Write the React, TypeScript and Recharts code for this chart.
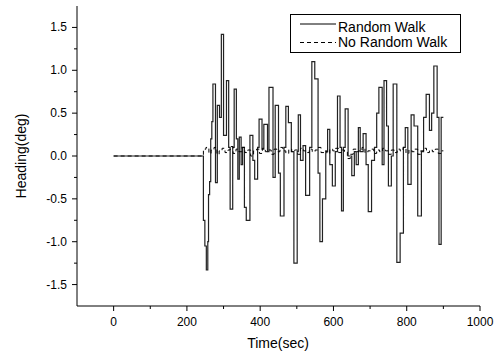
import React from 'react';
import { LineChart, Line, XAxis, YAxis, Legend, Label } from 'recharts';

// random walk heading (step signal)
const rwTime = [
  0, 245, 249, 253, 257, 259, 262, 265, 268, 271, 278, 283, 289, 294, 300, 308, 314, 318, 325, 329,
  335, 339, 343, 348, 352, 357, 362, 372, 380, 385, 393, 397, 405, 410, 420, 424, 435, 441, 450, 455,
  465, 470, 477, 485, 492, 501, 504, 510, 517, 524, 535, 541, 549, 558, 563, 570, 579, 584, 590, 597,
  605, 611, 618, 622, 627, 632, 640, 650, 657, 662, 668, 673, 681, 689, 695, 704, 712, 718, 724, 733,
  738, 745, 750, 758, 763, 773, 782, 791, 796, 803, 812, 820, 830, 840, 846, 853, 862, 868, 874, 883,
  888, 894, 900,
];
const rwValue = [
  0, -0.75, -1.05, -1.33, -1.0, -0.45, -0.3, 0.2, 0.4, 0.84, -0.31, 0.59, 0.45, 1.42, 0.24, 0.88, 0.1, -0.62, 0.1, 0.78,
  0.2, -0.27, 0.22, -0.1, 0.1, -0.6, -0.75, 0.24, -0.05, -0.27, 0.1, 0.43, 0.08, 0.37, 0.05, 0.8, -0.25, 0.59, -0.2, -0.7,
  0.1, 0.58, 0.39, 0.05, -1.25, 0.05, 0.48, -0.05, 0.12, -0.46, 0.1, 1.1, 0.9, -0.2, -1.0, -0.5, 0.05, 0.31, -0.1, -0.35,
  0.05, 0.7, 0.1, -0.64, 0.1, 0.55, 0.0, -0.23, 0.05, -0.1, 0.33, 0.05, 0.26, -0.1, -0.65, -0.05, 0.1, 0.5, 0.8, -0.1,
  0.88, 0.35, -0.35, 0.0, 0.84, -1.24, -0.9, 0.1, 0.33, -0.33, 0.48, 0.35, -0.7, 0.05, 0.45, 0.72, 0.3, 0.5, 1.05, 0.45,
  -1.03, 0.45, 0.45,
];

// no random walk heading
const nrwTime = [
  0, 245, 252, 260, 266, 274, 282, 288, 296, 304, 312, 318, 326, 334, 342, 350, 358, 366, 374, 382,
  390, 398, 406, 414, 422, 430, 438, 446, 454, 462, 470, 478, 486, 494, 502, 510, 518, 526, 534, 542,
  550, 558, 566, 574, 582, 590, 598, 606, 614, 622, 630, 638, 646, 654, 662, 670, 678, 686, 694, 702,
  710, 718, 726, 734, 742, 750, 758, 766, 774, 782, 790, 798, 806, 814, 822, 830, 838, 846, 854, 862,
  870, 878, 886, 894, 900,
];
const nrwValue = [
  0, 0.08, 0.1, 0.03, 0.07, 0.1, 0.02, 0.06, 0.09, 0.04, 0.07, 0.11, 0.03, 0.08, 0.05, 0.1, 0.04, 0.07, 0.0, 0.06,
  0.08, 0.03, 0.09, 0.05, 0.07, 0.02, 0.08, 0.05, 0.1, 0.06, 0.03, 0.08, 0.05, 0.07, 0.02, 0.09, 0.06, 0.04, 0.08, 0.05,
  0.07, 0.1, 0.04, 0.06, 0.03, 0.08, 0.06, 0.09, 0.04, 0.07, 0.05, -0.03, 0.02, 0.08, 0.05, 0.07, 0.1, 0.04, 0.06, 0.08,
  0.03, 0.07, 0.05, 0.09, 0.06, 0.02, 0.07, 0.04, 0.08, 0.06, 0.1, 0.03, 0.07, 0.05, 0.08, 0.02, 0.06, 0.09, 0.04, 0.07,
  0.05, 0.08, 0.03, 0.06, 0.06,
];

const xTicks = [0, 100, 200, 300, 400, 500, 600, 700, 800, 900, 1000];
const yTicks = [-1.5, -1.25, -1.0, -0.75, -0.5, -0.25, 0, 0.25, 0.5, 0.75, 1.0, 1.25, 1.5];

const rwData = rwTime.map((t, i) => ({ t, v: rwValue[i] }));
const nrwData = nrwTime.map((t, i) => ({ t, v: nrwValue[i] }));

const FONT = '"Liberation Sans", Arial, sans-serif';

const XTick = (props: any) => {
  const { x, y, payload } = props;
  const major = payload.value % 200 === 0;
  return (
    <g>
      <line x1={x} x2={x} y1={y} y2={y + (major ? 5 : 3)} stroke="#000" />
      {major && (
        <text x={x} y={y + 20} textAnchor="middle" fontSize={12} fontFamily={FONT} fill="#000">
          {payload.value}
        </text>
      )}
    </g>
  );
};

const YTick = (props: any) => {
  const { x, y, payload } = props;
  const v = payload.value;
  const major = Math.abs(v * 2 - Math.round(v * 2)) < 1e-6;
  return (
    <g>
      <line x1={x - (major ? 5 : 3)} x2={x} y1={y} y2={y} stroke="#000" />
      {major && (
        <text x={x - 10} y={y + 4} textAnchor="end" fontSize={12} fontFamily={FONT} fill="#000">
          {v.toFixed(1)}
        </text>
      )}
    </g>
  );
};

const LegendBox = () => (
  <svg width={171} height={39} style={{ display: 'block' }}>
    <rect x={0.5} y={0.5} width={170} height={38} fill="#fff" stroke="#000" />
    <line x1={10} x2={46} y1={10} y2={10} stroke="#000" />
    <text x={48} y={17.5} fontSize={14} fontFamily={FONT} fill="#000">Random Walk</text>
    <line x1={10} x2={46} y1={28.5} y2={28.5} stroke="#000" strokeDasharray="4 3" />
    <text x={48} y={33} fontSize={14} fontFamily={FONT} fill="#000">No Random Walk</text>
  </svg>
);

export default function App() {
  return (
    <div style={{ position: 'absolute', left: 0, top: 0, background: '#fff' }}>
      <LineChart width={499} height={356} margin={{ top: 6, right: 19, bottom: 0, left: 0 }}>
        <XAxis
          dataKey="t"
          type="number"
          domain={[-100, 1000]}
          ticks={xTicks}
          interval={0}
          allowDataOverflow
          height={50}
          tickSize={0}
          tickMargin={0}
          tickLine={false}
          axisLine={{ stroke: '#000' }}
          tick={<XTick />}
        >
          <Label
            content={() => (
              <text x={278} y={348} textAnchor="middle" fontSize={14} fontFamily={FONT} fill="#000">
                Time(sec)
              </text>
            )}
          />
        </XAxis>
        <XAxis xAxisId="top" orientation="top" type="number" domain={[-100, 1000]} height={0} tick={false} tickLine={false} axisLine={{ stroke: '#000' }} />
        <YAxis
          type="number"
          domain={[-1.75, 1.75]}
          ticks={yTicks}
          interval={0}
          allowDataOverflow
          width={77}
          tickSize={0}
          tickMargin={0}
          tickLine={false}
          axisLine={{ stroke: '#000' }}
          tick={<YTick />}
        >
          <Label
            content={() => (
              <text
                x={26}
                y={156}
                textAnchor="middle"
                fontSize={14}
                fontFamily={FONT}
                fill="#000"
                transform="rotate(-90 26 156)"
              >
                Heading(deg)
              </text>
            )}
          />
        </YAxis>
        <YAxis yAxisId="right" orientation="right" type="number" domain={[-1.75, 1.75]} width={0} tick={false} tickLine={false} axisLine={{ stroke: '#000' }} />
        <Legend
          layout="vertical"
          align="center"
          verticalAlign="middle"
          wrapperStyle={{ left: 290, top: 14, width: 171, height: 39 }}
          content={() => <LegendBox />}
        />
        <Line
          data={rwData}
          dataKey="v"
          type="stepAfter"
          stroke="#222"
          strokeWidth={1.2}
          dot={false}
          isAnimationActive={false}
          legendType="none"
        />
        <Line
          data={nrwData}
          dataKey="v"
          type="stepAfter"
          stroke="#000"
          strokeWidth={1}
          strokeDasharray="4 3"
          dot={false}
          isAnimationActive={false}
          legendType="none"
        />
      </LineChart>
    </div>
  );
}
